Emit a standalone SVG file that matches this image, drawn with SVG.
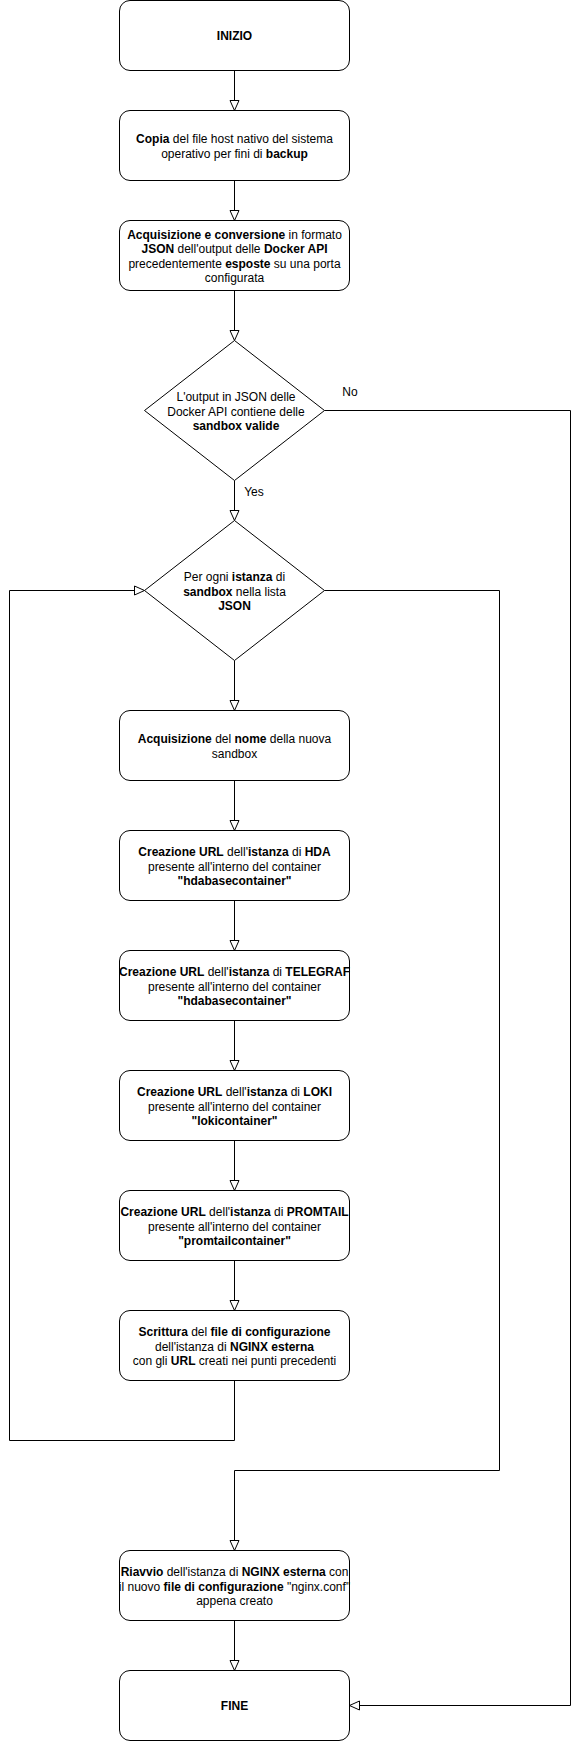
<svg xmlns="http://www.w3.org/2000/svg" width="580" height="1741" viewBox="0 0 580 1741">
<style>
.box{fill:#fff;stroke:#000;stroke-width:1}
.t{font-family:"Liberation Sans",Arial,Helvetica,sans-serif;font-size:12px;fill:#000;text-anchor:middle}
.b{font-weight:bold}
.c{fill:none;stroke:#000;stroke-width:1}
</style>
<defs>
<marker id="arr" markerUnits="userSpaceOnUse" markerWidth="12" markerHeight="12" viewBox="-1 -1 12 11" refX="10" refY="4.5" orient="auto">
<path d="M0,0 L10,4.5 L0,9 Z" fill="#fff" stroke="#000" stroke-width="1"/>
</marker>
</defs>
<rect width="580" height="1741" fill="#fff"/>
<g id="connectors">
<path class="c" d="M234.5,70.5 V110.5" marker-end="url(#arr)"/>
<path class="c" d="M234.5,180.5 V220.5" marker-end="url(#arr)"/>
<path class="c" d="M234.5,290.5 V340.5" marker-end="url(#arr)"/>
<path class="c" d="M234.5,480.5 V520.5" marker-end="url(#arr)"/>
<path class="c" d="M234.5,660.5 V710.5" marker-end="url(#arr)"/>
<path class="c" d="M234.5,780.5 V830.5" marker-end="url(#arr)"/>
<path class="c" d="M234.5,900.5 V950.5" marker-end="url(#arr)"/>
<path class="c" d="M234.5,1020.5 V1070.5" marker-end="url(#arr)"/>
<path class="c" d="M234.5,1140.5 V1190.5" marker-end="url(#arr)"/>
<path class="c" d="M234.5,1260.5 V1310.5" marker-end="url(#arr)"/>
<path class="c" d="M234.5,1380.5 V1440.5 H9.5 V590.5 H144.5" marker-end="url(#arr)"/>
<path class="c" d="M324.5,590.5 H499.5 V1470.5 H234.5 V1550.5" marker-end="url(#arr)"/>
<path class="c" d="M234.5,1620.5 V1670.5" marker-end="url(#arr)"/>
<path class="c" d="M324.5,410.5 H570.5 V1705.5 H349.5" marker-end="url(#arr)"/>
<text class="t" x="350" y="396">No</text>
<text class="t" x="254" y="496">Yes</text>
</g>
<g id="inizio">
<rect class="box" x="119.5" y="0.5" width="230" height="70" rx="10.5"/>
<text class="t b" x="234.5" y="40">INIZIO</text>
</g>
<g id="copia">
<rect class="box" x="119.5" y="110.5" width="230" height="70" rx="10.5"/>
<text class="t" x="234.5" y="143"><tspan class="b">Copia</tspan> del file host nativo del sistema</text>
<text class="t" x="234.5" y="157.5">operativo per fini di <tspan class="b">backup</tspan></text>
</g>
<g id="acquisizione-json">
<rect class="box" x="119.5" y="220.5" width="230" height="70" rx="10.5"/>
<text class="t" x="234.5" y="238.5"><tspan class="b">Acquisizione e conversione</tspan> in formato</text>
<text class="t" x="234.5" y="253"><tspan class="b">JSON</tspan> dell'output delle <tspan class="b">Docker API</tspan></text>
<text class="t" x="234.5" y="267.5">precedentemente <tspan class="b">esposte</tspan> su una porta</text>
<text class="t" x="234.5" y="282">configurata</text>
</g>
<g id="decisione-sandbox">
<polygon class="box" points="234.5,340.5 324.5,410.5 234.5,480.5 144.5,410.5"/>
<text class="t" x="236" y="401">L'output in JSON delle</text>
<text class="t" x="236" y="415.5">Docker API contiene delle</text>
<text class="t b" x="236" y="430">sandbox valide</text>
</g>
<g id="per-ogni">
<polygon class="box" points="234.5,520.5 324.5,590.5 234.5,660.5 144.5,590.5"/>
<text class="t" x="234.5" y="581"><tspan>Per ogni </tspan><tspan class="b">istanza</tspan> di</text>
<text class="t" x="234.5" y="595.5"><tspan class="b">sandbox</tspan> nella lista</text>
<text class="t b" x="234.5" y="610">JSON</text>
</g>
<g id="nome">
<rect class="box" x="119.5" y="710.5" width="230" height="70" rx="10.5"/>
<text class="t" x="234.5" y="743"><tspan class="b">Acquisizione</tspan> del <tspan class="b">nome</tspan> della nuova</text>
<text class="t" x="234.5" y="757.5">sandbox</text>
</g>
<g id="hda">
<rect class="box" x="119.5" y="830.5" width="230" height="70" rx="10.5"/>
<text class="t" x="234.5" y="856"><tspan class="b">Creazione URL</tspan> dell'<tspan class="b">istanza</tspan> di <tspan class="b">HDA</tspan></text>
<text class="t" x="234.5" y="870.5">presente all'interno del container</text>
<text class="t b" x="234.5" y="885">"hdabasecontainer"</text>
</g>
<g id="telegraf">
<rect class="box" x="119.5" y="950.5" width="230" height="70" rx="10.5"/>
<text class="t" x="234.5" y="976"><tspan class="b">Creazione URL</tspan> dell'<tspan class="b">istanza</tspan> di <tspan class="b">TELEGRAF</tspan></text>
<text class="t" x="234.5" y="990.5">presente all'interno del container</text>
<text class="t b" x="234.5" y="1005">"hdabasecontainer"</text>
</g>
<g id="loki">
<rect class="box" x="119.5" y="1070.5" width="230" height="70" rx="10.5"/>
<text class="t" x="234.5" y="1096"><tspan class="b">Creazione URL</tspan> dell'<tspan class="b">istanza</tspan> di <tspan class="b">LOKI</tspan></text>
<text class="t" x="234.5" y="1110.5">presente all'interno del container</text>
<text class="t b" x="234.5" y="1125">"lokicontainer"</text>
</g>
<g id="promtail">
<rect class="box" x="119.5" y="1190.5" width="230" height="70" rx="10.5"/>
<text class="t" x="234.5" y="1216"><tspan class="b">Creazione URL</tspan> dell'<tspan class="b">istanza</tspan> di <tspan class="b">PROMTAIL</tspan></text>
<text class="t" x="234.5" y="1230.5">presente all'interno del container</text>
<text class="t b" x="234.5" y="1245">"promtailcontainer"</text>
</g>
<g id="scrittura">
<rect class="box" x="119.5" y="1310.5" width="230" height="70" rx="10.5"/>
<text class="t" x="234.5" y="1336"><tspan class="b">Scrittura</tspan> del <tspan class="b">file di configurazione</tspan></text>
<text class="t" x="234.5" y="1350.5">dell'istanza di <tspan class="b">NGINX esterna</tspan></text>
<text class="t" x="234.5" y="1365">con gli <tspan class="b">URL</tspan> creati nei punti precedenti</text>
</g>
<g id="riavvio">
<rect class="box" x="119.5" y="1550.5" width="230" height="70" rx="10.5"/>
<text class="t" x="234.5" y="1576"><tspan class="b">Riavvio</tspan> dell'istanza di <tspan class="b">NGINX esterna</tspan> con</text>
<text class="t" x="234.5" y="1590.5">il nuovo <tspan class="b">file di configurazione</tspan> "nginx.conf"</text>
<text class="t" x="234.5" y="1605">appena creato</text>
</g>
<g id="fine">
<rect class="box" x="119.5" y="1670.5" width="230" height="70" rx="10.5"/>
<text class="t b" x="234.5" y="1710">FINE</text>
</g>
</svg>
